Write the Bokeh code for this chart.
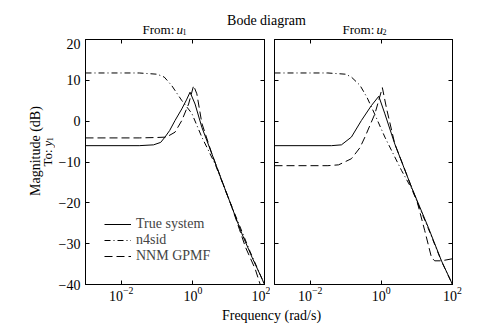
import numpy as np
from bokeh.plotting import figure
from bokeh.layouts import column, row
from bokeh.models import (Range1d, FixedTicker, LinearAxis, Label,
                          Legend, LegendItem)
from bokeh.embed import file_html
from bokeh.resources import INLINE

FONT = "Liberation Serif"

# ---------------- data ----------------
y_ticks = [-40, -30, -20, -10, 0, 10, 20]
y_tick_labels = ["\u221240", "\u221230", "\u221220", "\u221210", "0", "10", "20"]
x_ticks = [1e-2, 1e0, 1e2]
series_names = ["True system", "n4sid", "NNM GPMF"]

# From u1 -> y1  (frequency as log10(rad/s), magnitude in dB)
u1_true_exp = [-3, -1.5, -1.1, -0.9, -0.78, -0.65, -0.5, -0.31, -0.18, -0.08, 0.06, 0.25, 0.53, 0.81, 1.09, 1.37, 1.65, 1.93, 2.0]
u1_true_db = [-6, -6, -5.8, -5.2, -3.9, -2.3, 0.15, 3.0, 5.2, 7.1, 4.2, -1.5, -8.0, -14.6, -21.1, -27.6, -33.3, -38.6, -40]
u1_n4sid_exp = [-3, -1.5, -1.0, -0.8, -0.59, -0.31, -0.03, 0.25, 0.62, 1.0, 1.3, 1.6, 2.0]
u1_n4sid_db = [11.8, 11.8, 11.5, 10.8, 8.7, 5.05, 1.9, -3.9, -10.5, -19.0, -25.5, -32.0, -40]
u1_nnm_exp = [-3, -1.5, -1.0, -0.74, -0.5, -0.31, -0.12, 0.02, 0.11, 0.25, 0.53, 0.81, 1.09, 1.3, 1.47, 1.74, 1.88]
u1_nnm_db = [-4.1, -4.1, -4.0, -3.9, -2.7, 0.15, 4.2, 8.7, 6.7, -0.5, -8.0, -14.6, -21.1, -26.5, -30.9, -36.2, -40]

# From u2 -> y1
u2_true_exp = [-3, -1.4, -1.12, -0.84, -0.56, -0.28, -0.07, 0.1, 0.38, 0.85, 1.32, 1.69, 2.0]
u2_true_db = [-6, -6, -5.8, -3.9, 0.15, 3.8, 6.1, 1.8, -5.6, -16.2, -26.0, -34.2, -40]
u2_n4sid_exp = [-3, -1.5, -1.0, -0.84, -0.6, -0.4, -0.2, 0.1, 0.57, 0.85, 1.32, 1.69, 2.0]
u2_n4sid_db = [11.8, 11.8, 11.5, 10.8, 8.8, 5.8, 2.0, -3.9, -12.1, -16.5, -26.3, -34.3, -40]
u2_nnm_exp = [-3, -1.5, -1.2, -0.84, -0.6, -0.46, -0.18, 0.03, 0.15, 0.38, 0.6, 0.85, 1.0, 1.22, 1.41, 1.5, 1.69, 2.0]
u2_nnm_db = [-10.9, -10.9, -10.7, -9.2, -6.5, -3.9, 1.8, 8.2, 3.0, -5.6, -10.5, -16.2, -19.5, -26.8, -33.4, -34.2, -34.2, -33.7]

# ---------------- layout constants (pixels) ----------------
W, H = 484, 327
TOP_H = 38
YLAB_W = 55
FRAME_TOP, FRAME_BOT = 39, 284
ROW_BOT = 308
L_FRAME = (84, 263)
R_FRAME = (273, 451)
SPLIT = 269

styles = [dict(line_dash="solid"),
          dict(line_dash="6 3 1 3"),
          dict(line_dash="8 4")]


def blank(width, height, xr, yr):
    f = figure(width=width, height=height, x_range=xr, y_range=yr, title=None,
               x_axis_type=None, y_axis_type=None, toolbar_location=None,
               output_backend="svg", min_border=0)
    f.outline_line_color = None
    f.xgrid.visible = False
    f.ygrid.visible = False
    f.background_fill_color = "white"
    f.border_fill_color = "white"
    return f


def text(fig, x, y, s, size="14px", style="normal", angle=0.0, align="left"):
    fig.add_layout(Label(x=x, y=y, text=s, angle=angle, text_align=align,
                         text_baseline="alphabetic", text_font=FONT,
                         text_font_size=size, text_font_style=style,
                         text_color="black"))


def style_axis(ax, labels=True, standoff=5):
    ax.major_tick_in = 4
    ax.major_tick_out = 0
    ax.minor_tick_in = 0
    ax.minor_tick_out = 0
    ax.axis_line_color = "black"
    ax.major_tick_line_color = "black"
    ax.major_label_text_font = FONT
    ax.major_label_text_color = "black"
    if labels:
        ax.major_label_text_font_size = "14px"
        ax.major_label_standoff = standoff
    else:
        ax.major_label_text_font_size = "0px"
        ax.major_label_text_alpha = 0
        ax.major_label_standoff = 0


def panel(frame, left_border, right_border, show_ylabels, data):
    p = figure(x_axis_type="log", x_range=Range1d(1e-3, 1e2),
               y_range=Range1d(-40, 20), title=None,
               frame_width=frame[1] - frame[0],
               frame_height=FRAME_BOT - FRAME_TOP,
               min_border_left=left_border, min_border_right=right_border,
               min_border_top=FRAME_TOP - TOP_H,
               min_border_bottom=ROW_BOT - FRAME_BOT,
               toolbar_location=None, output_backend="svg")
    p.background_fill_color = "white"
    p.border_fill_color = "white"
    p.outline_line_color = "black"
    p.outline_line_width = 1
    p.xgrid.visible = False
    p.ygrid.visible = False

    p.xaxis.ticker = FixedTicker(ticks=x_ticks, minor_ticks=[])
    p.yaxis.ticker = FixedTicker(ticks=y_ticks, minor_ticks=[])
    p.yaxis.major_label_overrides = dict(zip(y_ticks, y_tick_labels))
    style_axis(p.xaxis[0], True, standoff=2)
    style_axis(p.yaxis[0], show_ylabels, standoff=5)

    top_ax = LinearAxis(ticker=FixedTicker(ticks=x_ticks, minor_ticks=[]))
    style_axis(top_ax, False)
    p.add_layout(top_ax, "above")
    right_ax = LinearAxis(ticker=FixedTicker(ticks=y_ticks, minor_ticks=[]))
    style_axis(right_ax, False)
    p.add_layout(right_ax, "right")

    renderers = []
    for (exp, db), st in zip(data, styles):
        r = p.line(10.0 ** np.array(exp), db, line_color="black",
                   line_width=1, **st)
        renderers.append(r)
    return p, renderers


left, rl = panel(L_FRAME, L_FRAME[0] - YLAB_W, SPLIT - L_FRAME[1], True,
                 [(u1_true_exp, u1_true_db), (u1_n4sid_exp, u1_n4sid_db),
                  (u1_nnm_exp, u1_nnm_db)])
right, rr = panel(R_FRAME, R_FRAME[0] - SPLIT, W - R_FRAME[1], False,
                  [(u2_true_exp, u2_true_db), (u2_n4sid_exp, u2_n4sid_db),
                   (u2_nnm_exp, u2_nnm_db)])

legend = Legend(items=[LegendItem(label=n, renderers=[r]) for n, r in zip(series_names, rl)],
                location=(19, 20))
legend.background_fill_alpha = 0
legend.border_line_color = None
legend.label_text_font = FONT
legend.label_text_font_size = "14px"
legend.glyph_width = 27
legend.glyph_height = 14
legend.label_height = 14
legend.label_standoff = 5
legend.spacing = 0
legend.padding = 0
legend.margin = 0
left.add_layout(legend)

# y-axis titles strip (coordinates = page pixels)
ylab = blank(YLAB_W, ROW_BOT - TOP_H, Range1d(0, YLAB_W), Range1d(ROW_BOT, TOP_H))
rot = np.pi / 2
text(ylab, 35, 161, "Magnitude (dB)", angle=rot, align="center")
text(ylab, 47, 178, "To:", size="13px", angle=rot)
text(ylab, 47, 156, "y", size="13px", style="italic", angle=rot)
text(ylab, 49.5, 150, "1", size="8px", angle=rot)

# top strip: title and column headers (coordinates = page pixels)
top = blank(W, TOP_H, Range1d(0, W), Range1d(TOP_H, 0))
text(top, 266, 20, "Bode diagram", align="center")
for x0, sub in ((142, "1"), (342, "2")):
    text(top, x0, 29, "From:", size="13px")
    text(top, x0 + 34, 29, "u", size="13px", style="italic")
    text(top, x0 + 40, 31.5, sub, size="8px")

# bottom strip: x axis title
bot = blank(W, H - ROW_BOT, Range1d(0, W), Range1d(H, ROW_BOT))
text(bot, 271, 314.5, "Frequency (rad/s)", align="center")

layout = column(top, row(ylab, left, right), bot)
open("out.html", "w").write(file_html(layout, INLINE))
